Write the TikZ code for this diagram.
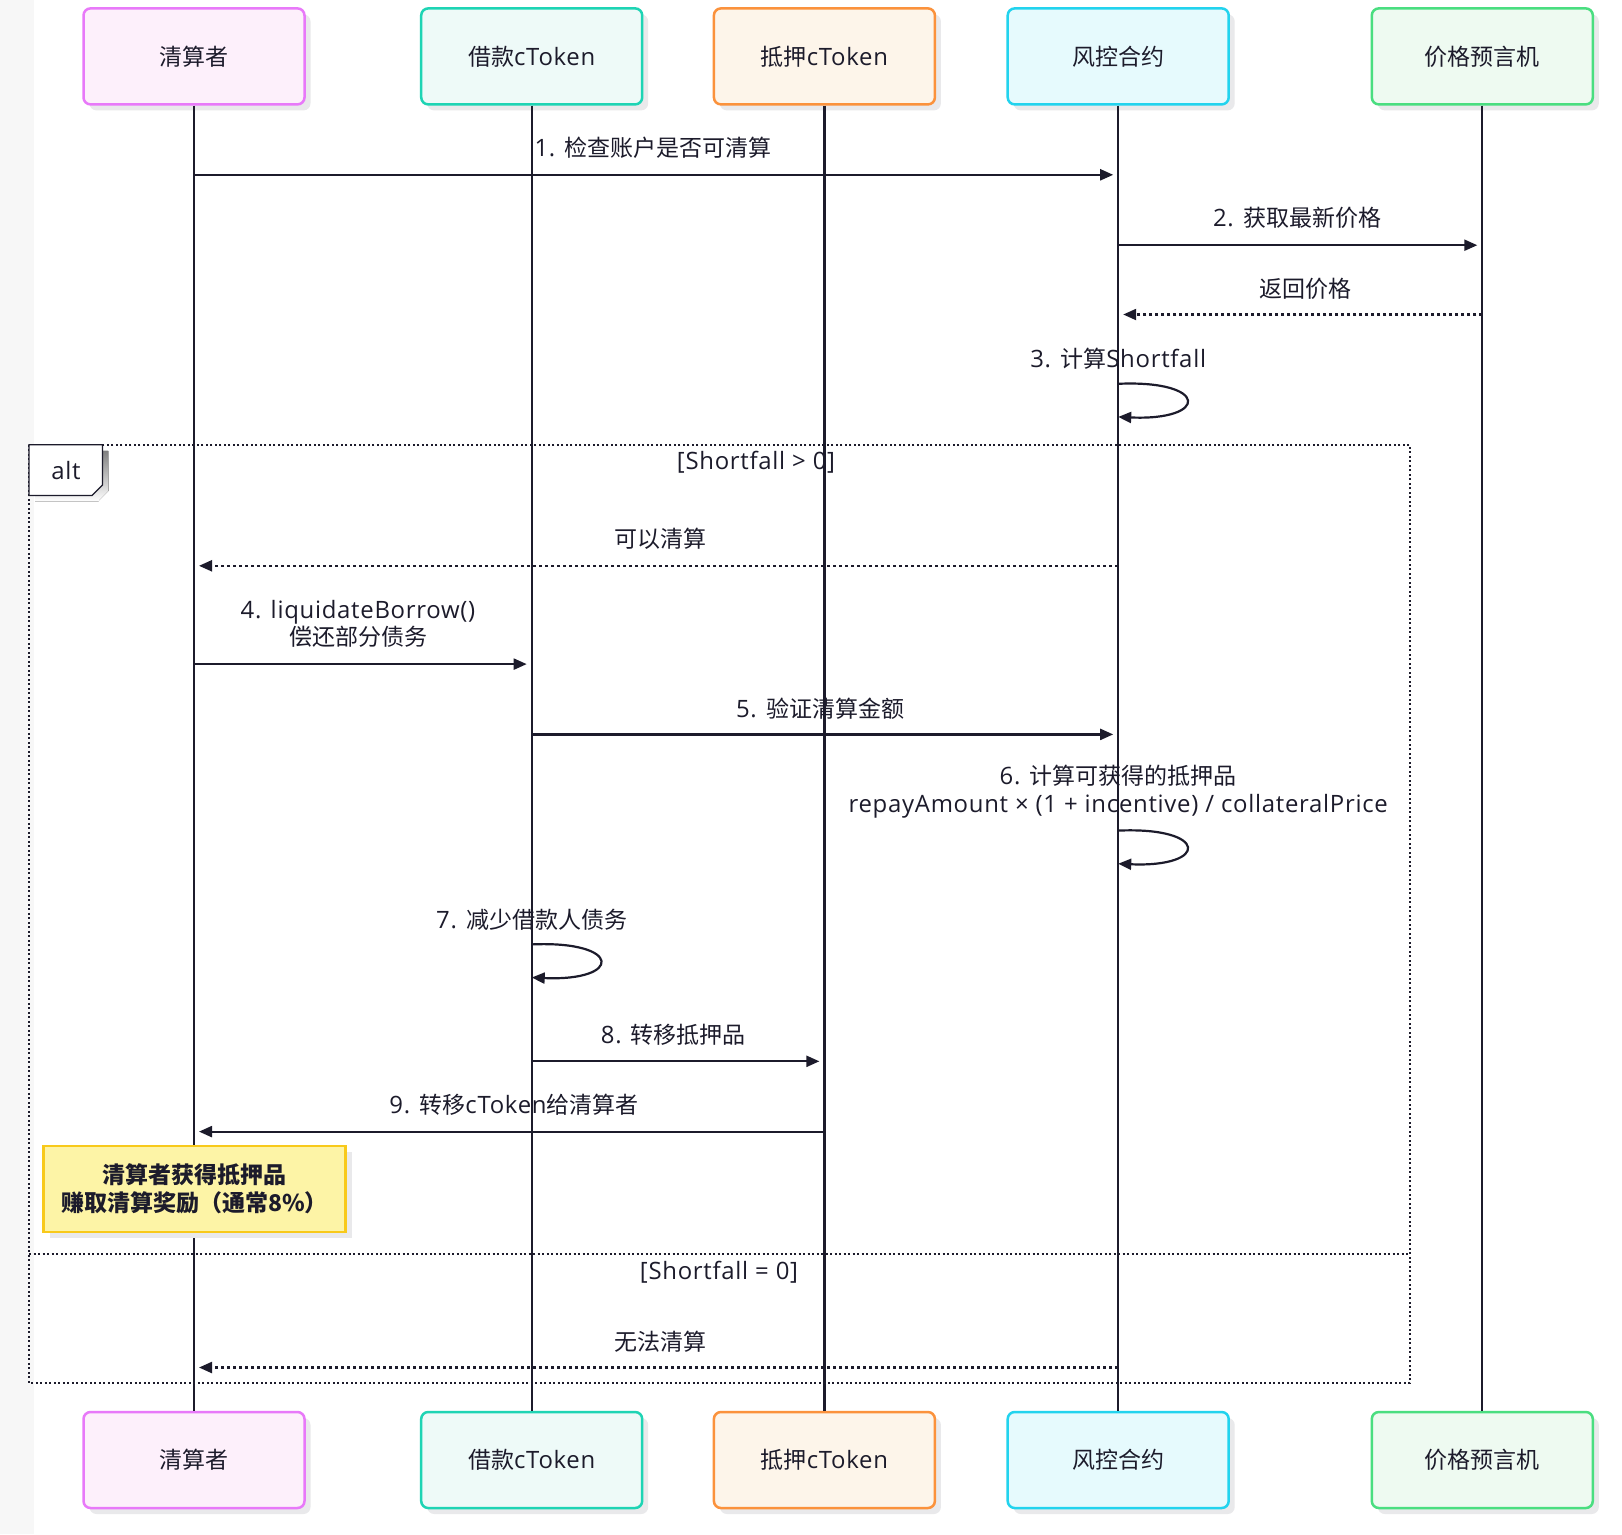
\documentclass[tikz,border=0pt]{standalone}
\usepackage{fontspec}
\setmainfont{Open Sans}[Scale=1.04,LetterSpace=3]
\newfontfamily\cjk{Noto Sans CJK SC}
\usetikzlibrary{arrows.meta,shadows}
\definecolor{ink}{HTML}{1C1B2B}
\definecolor{shade}{HTML}{E9E9EB}
\definecolor{leftbg}{HTML}{F7F7F7}
\definecolor{cAb}{HTML}{E879F9}\definecolor{cAf}{HTML}{FDF0FB}
\definecolor{cBb}{HTML}{1ED4B4}\definecolor{cBf}{HTML}{EEFAF8}
\definecolor{cCb}{HTML}{FB923C}\definecolor{cCf}{HTML}{FDF5EA}
\definecolor{cDb}{HTML}{22D3EE}\definecolor{cDf}{HTML}{E6FAFD}
\definecolor{cEb}{HTML}{4ADE80}\definecolor{cEf}{HTML}{EEFAF1}
\definecolor{noteb}{HTML}{F8C91A}\definecolor{notef}{HTML}{FDF4A6}
\newcommand\zh[1]{{\cjk #1}}
\newcommand\fsz{\fontsize{23}{27.5}\selectfont}
\def\xa{194}\def\xb{531.7}\def\xc{824.4}\def\xd{1118.2}\def\xe{1482.3}
\tikzset{
  actor/.style={rounded corners=7pt, line width=2.5pt, minimum width=221pt,
    minimum height=96pt, font=\fsz, text=ink, inner sep=0pt,
    drop shadow={shadow xshift=6pt,shadow yshift=-6pt,fill=shade,opacity=1}},
  life/.style={draw=ink, line width=2.3pt},
  msg/.style={draw=ink, line width=2.2pt, -{Triangle[length=13pt,width=11pt]}, shorten >=5pt},
  ret/.style={msg, dash pattern=on 3pt off 3pt},
  selfmsg/.style={draw=ink, line width=2.2pt, -{Triangle[length=13pt,width=11pt]}},
  lbl/.style={font=\fsz, text=ink, inner sep=0pt, align=center},
  frame/.style={draw=ink, line width=2pt, dash pattern=on 2pt off 2.5pt},
}
\begin{document}
\begin{tikzpicture}[x=1pt,y=-1pt]
\useasboundingbox (0,0) rectangle (1622,1534);
\fill[white] (0,0) rectangle (1622,1534);
\fill[leftbg] (0,0) rectangle (34,1534);

% actors
\node[actor, draw=cAb, fill=cAf] (a1t) at (\xa,56.4) {\zh{清算者}};
\node[actor, draw=cBb, fill=cBf] (a2t) at (\xb,56.4) {\zh{借款}cToken};
\node[actor, draw=cCb, fill=cCf] (a3t) at (\xc,56.4) {\zh{抵押}cToken};
\node[actor, draw=cDb, fill=cDf] (a4t) at (\xd,56.4) {\zh{风控合约}};
\node[actor, draw=cEb, fill=cEf] (a5t) at (\xe,56.4) {\zh{价格预言机}};
\node[actor, draw=cAb, fill=cAf] (a1b) at (\xa,1460) {\zh{清算者}};
\node[actor, draw=cBb, fill=cBf] (a2b) at (\xb,1460) {\zh{借款}cToken};
\node[actor, draw=cCb, fill=cCf] (a3b) at (\xc,1460) {\zh{抵押}cToken};
\node[actor, draw=cDb, fill=cDf] (a4b) at (\xd,1460) {\zh{风控合约}};
\node[actor, draw=cEb, fill=cEf] (a5b) at (\xe,1460) {\zh{价格预言机}};

% lifelines
\draw[life] (a1t.south) -- (a1b.north);
\draw[life] (a2t.south) -- (a2b.north);
\draw[life] (a3t.south) -- (a3b.north);
\draw[life] (a4t.south) -- (a4b.north);
\draw[life] (a5t.south) -- (a5b.north);

% alt frame
\coordinate (fTL) at (29,444.8);
\coordinate (fBR) at (1410,1383);
\draw[frame] (fTL) rectangle (fBR);
\coordinate (dL) at (29,1253.7);
\coordinate (dR) at (1410,1253.7);
\draw[frame] (dL) -- (dR);
\fill[shade] (35,450.8) -- (108.4,450.8) -- (108.4,491) -- (98,501.5) -- (35,501.5) -- cycle;
\draw[fill=white, draw=ink, line width=1.2pt] (29,444.8) -- (102.4,444.8) -- (102.4,485) -- (92,495.5) -- (29,495.5) -- cycle;
\node[lbl] (altl) at (66,471) {alt};
\node[lbl] (g1) at (756,462.4) {[Shortfall > 0]};
\node[lbl] (g2) at (719,1272.3) {[Shortfall = 0]};

% message 1
\coordinate (m1a) at (\xa,174.8); \coordinate (m1b) at (\xd,174.8);
\draw[msg] (m1a) -- (m1b);
\node[lbl] (t1) at (653,147.9) {1. \zh{检查账户是否可清算}};
% message 2
\coordinate (m2a) at (\xd,245.2); \coordinate (m2b) at (\xe,245.2);
\draw[msg] (m2a) -- (m2b);
\node[lbl] (t2) at (1297,218.3) {2. \zh{获取最新价格}};
% return price
\coordinate (m3a) at (\xe,314.5); \coordinate (m3b) at (\xd,314.5);
\draw[ret] (m3a) -- (m3b);
\node[lbl] (t3) at (1305,288.6) {\zh{返回价格}};
% self 3
\coordinate (s1a) at (\xd,383.8); \coordinate (s1b) at (\xd,416.9);
\draw[selfmsg] (s1a) .. controls +(91,-4) and +(91,4) .. (s1b);
\node[lbl] (t4) at (\xd,358.9) {3. \zh{计算}Shortfall};
% can liquidate
\coordinate (m5a) at (\xd,565.8); \coordinate (m5b) at (\xa,565.8);
\draw[ret] (m5a) -- (m5b);
\node[lbl] (t5) at (660,539) {\zh{可以清算}};
% 4
\coordinate (m6a) at (\xa,664.1); \coordinate (m6b) at (\xb,664.1);
\draw[msg] (m6a) -- (m6b);
\node[lbl] (t6) at (358,623.7) {4. liquidateBorrow()\\\zh{偿还部分债务}};
% 5
\coordinate (m7a) at (\xb,734.4); \coordinate (m7b) at (\xd,734.4);
\draw[msg] (m7a) -- (m7b);
\node[lbl] (t7) at (820,708.6) {5. \zh{验证清算金额}};
% 6 self
\coordinate (s2a) at (\xd,830.6); \coordinate (s2b) at (\xd,863.7);
\draw[selfmsg] (s2a) .. controls +(91,-4) and +(91,4) .. (s2b);
\node[lbl] (t8) at (\xd,791.8) {6. \zh{计算可获得的抵押品}\\repayAmount × (1 + incentive) / collateralPrice};
% 7 self
\coordinate (s3a) at (\xb,944.4); \coordinate (s3b) at (\xb,977.5);
\draw[selfmsg] (s3a) .. controls +(91,-4) and +(91,4) .. (s3b);
\node[lbl] (t9) at (\xb,919.6) {7. \zh{减少借款人债务}};
% 8
\coordinate (m8a) at (\xb,1061.3); \coordinate (m8b) at (\xc,1061.3);
\draw[msg] (m8a) -- (m8b);
\node[lbl] (t10) at (673.4,1034.4) {8. \zh{转移抵押品}};
% 9
\coordinate (m9a) at (\xc,1131.6); \coordinate (m9b) at (\xa,1131.6);
\draw[msg] (m9a) -- (m9b);
\node[lbl] (t11) at (514,1104.7) {9. \zh{转移}cToken\zh{给清算者}};
% note
\node[draw=noteb, fill=notef, line width=2.5pt, minimum width=302pt, minimum height=86pt,
  inner sep=0pt, align=center, font=\fsz\bfseries, text=ink,
  drop shadow={shadow xshift=6pt,shadow yshift=-6pt,fill=shade,opacity=1}]
  (note) at (194.5,1189) {\zh{清算者获得抵押品}\\\zh{赚取清算奖励（通常8\%）}};
% cannot liquidate
\coordinate (m10a) at (\xd,1367.5); \coordinate (m10b) at (\xa,1367.5);
\draw[ret] (m10a) -- (m10b);
\node[lbl] (t12) at (660,1341.6) {\zh{无法清算}};
\end{tikzpicture}
\end{document}
